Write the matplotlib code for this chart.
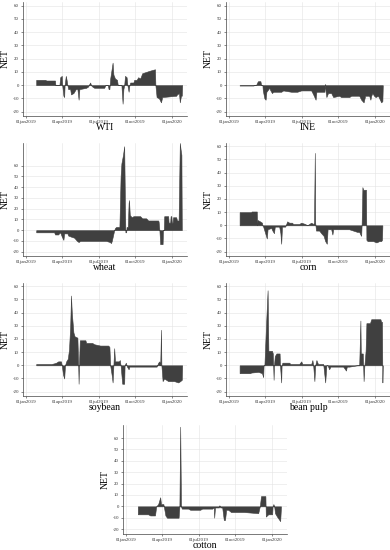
import numpy as np
import matplotlib
matplotlib.use("Agg")
import matplotlib.pyplot as plt

plt.rcParams['font.family'] = ['Liberation Serif', 'DejaVu Serif']

BASE = np.datetime64('2019-01-01')

# (day offset from 01jan2019, NET value)
wti_day = [25,48,50,72,73,83,85,89,90,93,95,96,99,101,103,105,110,112,118,120,124,128,131,133,150,155,158,160,162,165,170,195,198,204,206,208,210,216,218,222,227,229,238,241,243,245,247,251,253,256,258,260,268,270,276,280,285,290,300,310,322,323,326,332,337,340,375,377,382,384,387,389,390]
wti_val = [4,4,3.5,3.5,0,0,6,7,0,-8,-9,0,7,4,0,-3,-3,-7,-6,-5,-3,-3,-11,-3,-2,-1,1,2,0,-1,-2,-2,0,0,-3,-3,5,17,8,5,4,0,0,-14,-3,0,7,6,0,-5,0,2,2,4,4,6,5,9,10,11,12,0,-9,-10,-13,-9,-8,-7,-6,-13,-8,-8,0]

ine_day = [26,60,68,70,72,78,80,83,84,88,91,93,98,100,103,107,110,130,135,155,170,180,205,210,216,218,238,240,241,243,247,255,260,275,280,300,305,325,330,336,340,350,353,355,358,362,366,372,380,383,384]
ine_val = [-0.3,-0.3,0.5,2,3,3,0,0,-4,-10,-11,-5,-3,-2,-4,-6,-5,-5,-4,-5,-5,-4,-4,-7,-11,-5,-5,1,-5,-9,-6,-6,-9,-8,-9,-9,-8,-8,-11,-13,-8,-8,-11,-8,-6,-8,-9,-8,-13,-12,0]

wheat_day = [25,70,72,80,82,85,89,93,95,103,105,112,120,127,131,135,200,209,212,214,220,222,225,233,236,238,242,245,247,248,250,251,254,256,257,259,264,268,285,290,300,305,330,331,333,335,341,342,344,345,355,356,360,361,363,364,366,367,375,377,381,384,386,388,389]
wheat_val = [-2,-2,-4,-4,-3,-2,-6,-9,-3,-3,-5,-6,-7,-10,-11,-10,-10,-11,-12,-10,0,2,3,3,50,62,70,78,20,-2,-2,3,3,25,28,14,12,13,13,11,11,9,9,8,0,-13,-13,0,0,13,13,7,7,13,13,7,7,12,12,9,9,81,75,70,0]

corn_day = [26,55,56,69,70,71,77,82,83,85,90,94,96,105,108,112,114,125,128,130,132,140,145,150,157,160,175,180,190,195,200,205,210,212,214,215,217,225,230,236,240,244,246,255,258,260,280,300,310,320,325,328,330,331,333,335,342,343,346,360,368,375,380,382,383]
corn_val = [10,10,10.5,10.5,0,4,3,2,0,-1,-6,-10,-3,-2,-4,-6,-1,-1,-6,-14,-1,-1,3,2,2,1,1,2,1,0,1,2,1,2,55,2,-4,-4,-6,-8,-12,-14,-3,-3,-7,-3,-3,-3,-4,-5,-5,-7,-8,0,29,27,27,-11,-12,-12,-13,-12,-12,-11,0]

soy_day = [25,63,70,75,80,87,89,92,95,97,100,104,107,110,112,114,118,121,128,130,131,132,134,148,150,165,170,185,205,208,210,214,216,218,220,222,232,234,236,240,245,246,249,252,256,258,280,300,320,326,330,333,335,337,338,341,345,350,355,370,380,385,389,390]
soy_val = [1,1,1.5,2,3,3,0,-7,-10,0,3,5,12,30,53,40,25,22,21,0,-14,0,19,19,17,17,16,15,15,14,0,-8,-13,0,13,3,3,4,0,-14,-14,0,2,-1,-3,-1,-1,-1,-1,-1,2,3,0,27,0,-12,-10,-11,-12,-12,-13,-12,-11,0]

bean_day = [26,52,55,73,82,85,86,88,92,96,98,107,109,111,112,114,118,126,127,130,131,133,150,153,175,180,183,205,208,210,213,215,218,222,235,240,243,246,250,253,270,285,292,294,300,320,325,328,329,334,336,338,341,343,352,355,378,380,382,383,384]
bean_val = [-6,-6,-5.5,-5,-6,-9,0,0,30,57,11,11,9,-11,0,7,9,9,0,-13,0,2,2,1,1,3,1,1,4,0,-12,0,4,1,1,-13,0,0,-3,-1,-1,-1,-4,-1,-1,0,0,34,9,9,-12,0,11,32,32,35,35,33,33,-13,0]

cotton_day = [29,55,60,72,75,80,85,87,93,95,98,102,131,133,135,137,139,155,160,185,190,215,219,220,222,232,233,235,240,244,247,250,255,262,285,295,330,334,337,348,349,355,365,366,368,370,372,377,385,387]
cotton_val = [-7,-7,-8,-8,0,2,8,2,2,-2,-8,-10,-10,0,70,0,-2,-2,-3,-3,-2,-2,-1,-10,-1,-1,1,-1,-1,-12,-12,-3,-3,-5,-5,-5,-6,0,9,9,-9,-7,-7,0,2,0,-6,-9,-13,0]

xtick_labels = ['01jan2019', '01apr2019', '01jul2019', '01oct2019', '01jan2020']
xtick_dates = ['2019-01-01', '2019-04-01', '2019-07-01', '2019-10-01', '2020-01-01']
ytick_vals = [-20, -10, 0, 10, 20, 30, 40, 50, 60]

panels = [
    ('WTI', wti_day, wti_val, [23, 2, 187, 116], (-23.3, 62.8)),
    ('INE', ine_day, ine_val, [226, 2, 390, 116], (-23.3, 62.8)),
    ('wheat', wheat_day, wheat_val, [23, 143, 187, 256], (-24, 81)),
    ('corn', corn_day, corn_val, [226, 143, 390, 256], (-23.3, 62.5)),
    ('soybean', soy_day, soy_val, [23, 283, 187, 396], (-23.3, 62.5)),
    ('bean pulp', bean_day, bean_val, [226, 283, 390, 396], (-23.3, 62.5)),
    ('cotton', cotton_day, cotton_val, [123, 425, 287, 534], (-24.3, 71.5)),
]

W, H = 390, 550
fig = plt.figure(figsize=(W / 100, H / 100), dpi=100)
fill_c = '#404040'
for name, d, v, (l, t, r, b), ylim in panels:
    ax = fig.add_axes([l / W, 1 - b / H, (r - l) / W, (b - t) / H])
    x = BASE + np.array(d, dtype='timedelta64[D]')
    ax.fill_between(x, 0, v, color=fill_c, linewidth=0.4, edgecolor=fill_c)
    ax.set_xlim(BASE - np.timedelta64(8, 'D'), BASE + np.timedelta64(402, 'D'))
    ax.set_ylim(*ylim)
    ax.set_yticks(ytick_vals)
    ax.set_yticklabels([str(t) for t in ytick_vals])
    ax.set_xticks([np.datetime64(s) for s in xtick_dates])
    ax.set_xticklabels(xtick_labels)
    ax.tick_params(axis='both', labelsize=3.5, length=1.5, width=0.4, pad=1.5, colors='#333333')
    ax.grid(True, color='#e4e4e4', linewidth=0.4)
    ax.set_axisbelow(True)
    for s in ['top', 'right']:
        ax.spines[s].set_visible(False)
    for s in ['left', 'bottom']:
        ax.spines[s].set_linewidth(0.5)
        ax.spines[s].set_color('#444444')
    ax.set_ylabel('NET', fontsize=7, labelpad=2)
    ax.set_xlabel(name, fontsize=7, labelpad=-0.5)

fig.savefig('out.png', dpi=100)
